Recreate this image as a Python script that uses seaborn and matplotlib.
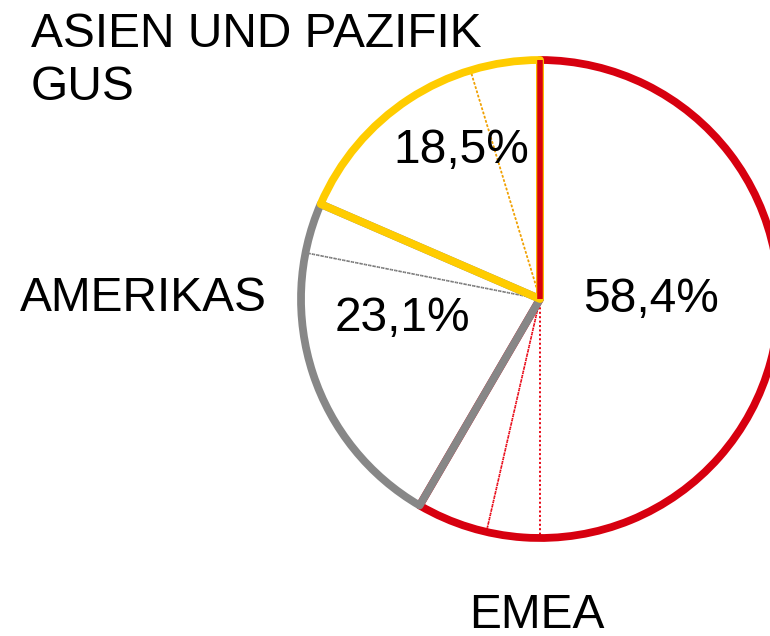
import numpy as np
import matplotlib
matplotlib.use("Agg")
import matplotlib.pyplot as plt
import seaborn as sns

# --- data ---
regions = ["EMEA", "AMERIKAS", "ASIEN UND PAZIFIK\nGUS"]
shares = [58.4, 23.1, 18.5]
# inner split of each region (dotted separators)
sub_shares = [[50.0, 3.6, 4.8], [19.7, 3.4], [13.8, 4.7]]

colors = ["#d7000f", "#878787", "#ffcc00"]
dot_colors = ["#e8000f", "#777777", "#f0a000"]

sns.set_theme(style="white")
plt.rcParams["font.family"] = ["Liberation Sans", "DejaVu Sans"]
plt.rcParams["text.color"] = "black"

fig = plt.figure(figsize=(7.7, 6.36), dpi=100)
ax = fig.add_axes([0, 0, 1, 1])

R = 1.0
px = 239.0  # pixels per radius unit
cx, cy = 540, 299

# white wedges underneath
ax.pie(shares, radius=R, startangle=90, counterclock=False,
       colors=["white"] * 3, wedgeprops=dict(linewidth=0, zorder=1))

# dotted sub separators
flat_sub = [v for grp in sub_shares for v in grp]
flat_col = [dot_colors[i] for i, grp in enumerate(sub_shares) for _ in grp]
sub_w, _ = ax.pie(flat_sub, radius=R, startangle=90, counterclock=False,
                  wedgeprops=dict(fill=False, linewidth=1.2, linestyle=":", zorder=2))
for w, c in zip(sub_w, flat_col):
    w.set_edgecolor(c)

# thick outlines
main_w, _ = ax.pie(shares, radius=R, startangle=90, counterclock=False,
                   wedgeprops=dict(fill=False, linewidth=5.6, zorder=3,
                                   joinstyle="round"))
for w, c in zip(main_w, colors):
    w.set_edgecolor(c)

# red start edge on top
a = np.deg2rad(main_w[0].theta2)
ax.plot([0, R * np.cos(a)], [0, R * np.sin(a)], color=colors[0], lw=4.0,
        zorder=4, solid_capstyle="butt")

def fmt(v):
    return f"{v:.1f}".replace(".", ",") + "%"

def to_data(x, y):
    return (x - cx) / px, (cy - y) / px

fs = 34.5
pct_pos = [(651, 299), (402, 318), (461, 150)]
for v, (x, y) in zip(shares, pct_pos):
    ax.text(*to_data(x, y), fmt(v), ha="center", va="center", fontsize=fs,
            color="black", zorder=5)

ax.text(*to_data(537, 615), regions[0], ha="center", va="center", fontsize=fs,
        color="black")
ax.text(*to_data(20, 298), regions[1], ha="left", va="center", fontsize=fs,
        color="black")
ax.text(*to_data(31, 12), regions[2], ha="left", va="top", fontsize=fs,
        linespacing=1.22, color="black")

ax.set_xlim((0 - cx) / px, (770 - cx) / px)
ax.set_ylim((cy - 636) / px, cy / px)
ax.set_aspect("auto")
ax.axis("off")

fig.savefig("out.png", dpi=100)
